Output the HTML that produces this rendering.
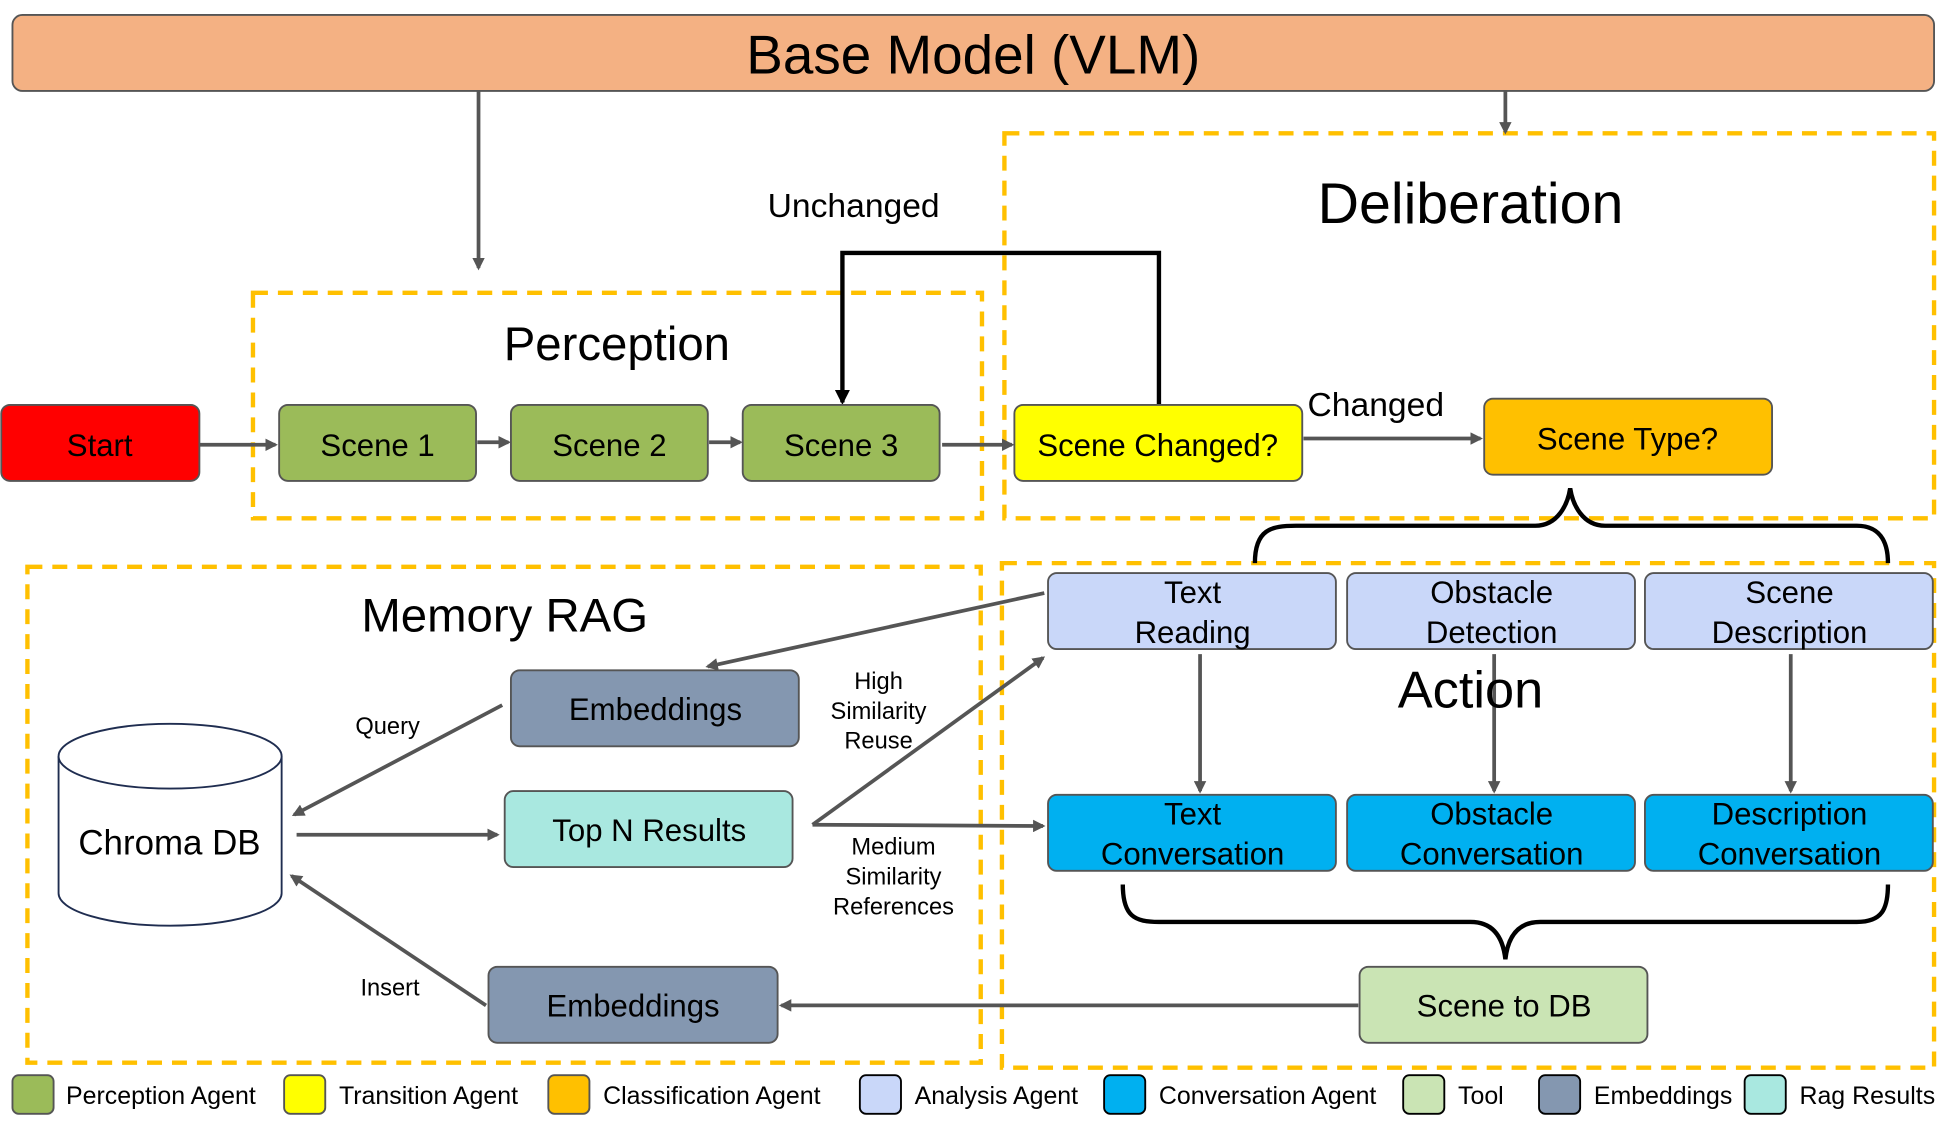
<!DOCTYPE html>
<html><head><meta charset="utf-8"><style>
html,body{margin:0;padding:0;background:#fff;width:1954px;height:1125px;overflow:hidden}
svg{display:block}
text{font-family:"Liberation Sans Narrow","Liberation Sans",sans-serif;fill:#000}
</style></head><body>
<svg width="1954" height="1125" viewBox="0 0 1568 903" preserveAspectRatio="none" xmlns="http://www.w3.org/2000/svg">
<defs>
<marker id="a" markerWidth="10" markerHeight="10" refX="8" refY="5" orient="auto" markerUnits="userSpaceOnUse"><path d="M0,0 L10,5 L0,10 z" fill="#555"/></marker>
<marker id="b" markerWidth="12" markerHeight="12" refX="10" refY="6" orient="auto" markerUnits="userSpaceOnUse"><path d="M0,0 L12,6 L0,12 z" fill="#000"/></marker>
</defs>
<g stroke="#555" stroke-width="1.5">
<rect x="10" y="12" width="1542" height="61" rx="8" fill="#F4B183"/>
</g>
<text x="781" y="59" font-size="44" text-anchor="middle">Base Model (VLM)</text>
<g fill="none" stroke="#FFC000" stroke-width="3.5" stroke-dasharray="12,8">
<rect x="203" y="235" width="585" height="181"/>
<rect x="806" y="107" width="746" height="309"/>
<rect x="22" y="455" width="765" height="398"/>
<rect x="804" y="452" width="748" height="405"/>
</g>
<g stroke="#555" stroke-width="3" fill="none" marker-end="url(#a)">
<line x1="384" y1="73" x2="384" y2="215"/>
<line x1="1208" y1="73" x2="1208" y2="106"/>
<line x1="160" y1="357" x2="221" y2="357"/>
<line x1="383" y1="355" x2="408" y2="355"/>
<line x1="569" y1="355" x2="594" y2="355"/>
<line x1="756" y1="357" x2="812" y2="357"/>
<line x1="1046" y1="352" x2="1188" y2="352"/>
<line x1="838" y1="476" x2="568" y2="535"/>
<line x1="403" y1="566" x2="236" y2="654"/>
<line x1="238" y1="670" x2="399" y2="670"/>
<polyline points="652,662 652,662 837,528"/>
<line x1="652" y1="662" x2="837" y2="663"/>
<line x1="390" y1="807" x2="234" y2="703"/>
<line x1="1090" y1="807" x2="627" y2="807"/>
<line x1="963" y1="525" x2="963" y2="635"/>
<line x1="1199" y1="525" x2="1199" y2="635"/>
<line x1="1437" y1="525" x2="1437" y2="635"/>
</g>
<polyline points="930,325 930,203 676,203 676,323" fill="none" stroke="#000" stroke-width="3.5" marker-end="url(#b)"/>
<path d="M1007,452 C1007,425 1020,422 1040,422 L1232,422 C1250,422 1258,405 1260,392 C1262,405 1270,422 1288,422 L1490,422 C1512,422 1515,440 1515,452" fill="none" stroke="#000" stroke-width="3.5"/>
<path d="M901,710 C901,735 910,740 930,740 L1180,740 C1198,740 1206,752 1208,770 C1210,752 1218,740 1236,740 L1490,740 C1510,740 1515,730 1515,710" fill="none" stroke="#000" stroke-width="3.5"/>
<g stroke="#555" stroke-width="1.5">
<rect x="1" y="325" width="159" height="61" rx="7" fill="#FF0000"/>
<rect x="224" y="325" width="158" height="61" rx="7" fill="#9BBB59"/>
<rect x="410" y="325" width="158" height="61" rx="7" fill="#9BBB59"/>
<rect x="596" y="325" width="158" height="61" rx="7" fill="#9BBB59"/>
<rect x="814" y="325" width="231" height="61" rx="7" fill="#FFFF00"/>
<rect x="1191" y="320" width="231" height="61" rx="7" fill="#FFC000"/>
<rect x="841" y="460" width="231" height="61" rx="7" fill="#C9D7F9"/>
<rect x="1081" y="460" width="231" height="61" rx="7" fill="#C9D7F9"/>
<rect x="1320" y="460" width="231" height="61" rx="7" fill="#C9D7F9"/>
<rect x="841" y="638" width="231" height="61" rx="7" fill="#00B0F0"/>
<rect x="1081" y="638" width="231" height="61" rx="7" fill="#00B0F0"/>
<rect x="1320" y="638" width="231" height="61" rx="7" fill="#00B0F0"/>
<rect x="1091" y="776" width="231" height="61" rx="7" fill="#CAE4B4"/>
<rect x="392" y="776" width="232" height="61" rx="7" fill="#8497B0"/>
<rect x="410" y="538" width="231" height="61" rx="7" fill="#8497B0"/>
<rect x="405" y="635" width="231" height="61" rx="7" fill="#A9E8E0"/>
</g>
<g stroke="#1F2D50" stroke-width="1.5" fill="#fff">
<path d="M47,607 L47,717 A89.5,26 0 0 0 226,717 L226,607"/>
<ellipse cx="136.5" cy="607" rx="89.5" ry="26"/>
</g>
<g font-size="25" text-anchor="middle">
<text x="80" y="366">Start</text>
<text x="303" y="366">Scene 1</text>
<text x="489" y="366">Scene 2</text>
<text x="675" y="366">Scene 3</text>
<text x="929" y="366">Scene Changed?</text>
<text x="1306" y="361">Scene Type?</text>
<text x="957" y="484">Text</text><text x="957" y="516">Reading</text>
<text x="1197" y="484">Obstacle</text><text x="1197" y="516">Detection</text>
<text x="1436" y="484">Scene</text><text x="1436" y="516">Description</text>
<text x="957" y="662">Text</text><text x="957" y="694">Conversation</text>
<text x="1197" y="662">Obstacle</text><text x="1197" y="694">Conversation</text>
<text x="1436" y="662">Description</text><text x="1436" y="694">Conversation</text>
<text x="1207" y="816">Scene to DB</text>
<text x="508" y="816">Embeddings</text>
<text x="526" y="578">Embeddings</text>
<text x="521" y="675">Top N Results</text>
<text x="136" y="686" font-size="28">Chroma DB</text>
<text x="685" y="174" font-size="27">Unchanged</text>
<text x="1104" y="334" font-size="27">Changed</text>
</g>
<g text-anchor="middle">
<text x="495" y="289" font-size="38">Perception</text>
<text x="1180" y="179" font-size="46">Deliberation</text>
<text x="405" y="507" font-size="38">Memory RAG</text>
<text x="1180" y="568" font-size="42">Action</text>
</g>
<g font-size="19" text-anchor="middle">
<text x="311" y="589">Query</text>
<text x="313" y="799">Insert</text>
<text x="705" y="553">High</text><text x="705" y="577">Similarity</text><text x="705" y="601">Reuse</text>
<text x="717" y="686">Medium</text><text x="717" y="710">Similarity</text><text x="717" y="734">References</text>
</g>
<g stroke="#555" stroke-width="1.5">
<rect x="10" y="863" width="33" height="31" rx="5" fill="#9BBB59"/>
<rect x="228" y="863" width="33" height="31" rx="5" fill="#FFFF00"/>
<rect x="440" y="863" width="33" height="31" rx="5" fill="#FFC000"/>
<rect x="690" y="863" width="33" height="31" rx="5" fill="#C9D7F9" stroke="#000"/>
<rect x="886" y="863" width="33" height="31" rx="5" fill="#00B0F0" stroke="#000"/>
<rect x="1126" y="863" width="33" height="31" rx="5" fill="#CAE4B4" stroke="#000"/>
<rect x="1235" y="863" width="33" height="31" rx="5" fill="#8497B0" stroke="#000"/>
<rect x="1400" y="863" width="33" height="31" rx="5" fill="#A9E8E0" stroke="#000"/>
</g>
<g font-size="20">
<text x="53" y="886">Perception Agent</text>
<text x="272" y="886">Transition Agent</text>
<text x="484" y="886">Classification Agent</text>
<text x="734" y="886">Analysis Agent</text>
<text x="930" y="886">Conversation Agent</text>
<text x="1170" y="886">Tool</text>
<text x="1279" y="886">Embeddings</text>
<text x="1444" y="886">Rag Results</text>
</g>
</svg>
</body></html>
